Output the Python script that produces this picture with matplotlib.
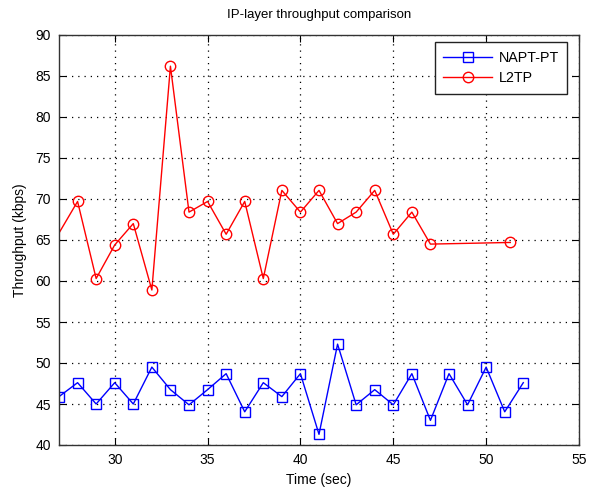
import matplotlib
matplotlib.use("Agg")
import matplotlib.pyplot as plt

plt.rcParams['font.family'] = ['Liberation Sans', 'DejaVu Sans']

napt_x = [27, 28, 29, 30, 31, 32, 33, 34, 35, 36, 37, 38, 39, 40, 41, 42, 43, 44, 45, 46, 47, 48, 49, 50, 51, 52]
napt_y = [45.9, 47.6, 45.0, 47.6, 45.0, 49.5, 46.75, 44.9, 46.75, 48.7, 44.05, 47.6, 45.9, 48.7, 41.3,
          52.3, 44.9, 46.75, 44.9, 48.7, 43.0, 48.7, 44.9, 49.5, 44.05, 47.6]

l2tp_x = [26, 28, 29, 30, 31, 32, 33, 34, 35, 36, 37, 38, 39, 40, 41, 42, 43, 44, 45, 46, 47, 51.3]
l2tp_y = [62.0, 69.7, 60.3, 64.4, 67.0, 58.9, 86.2, 68.4, 69.7, 65.7, 69.7, 60.3, 71.05, 68.4, 71.05,
          67.0, 68.4, 71.05, 65.7, 68.4, 64.5, 64.7]

xticks = [30, 35, 40, 45, 50, 55]
yticks = [40, 45, 50, 55, 60, 65, 70, 75, 80, 85, 90]

fig = plt.figure(figsize=(6.02, 4.91), dpi=100)
ax = fig.add_axes([59/602, 46/491, 520/602, 410/491])

ax.plot(napt_x, napt_y, color='#0000ff', lw=1, marker='s', markersize=7.5,
        markerfacecolor='none', markeredgecolor='#0000ff', markeredgewidth=1, label='NAPT-PT')
ax.plot(l2tp_x, l2tp_y, color='#ff0000', lw=1, marker='o', markersize=7.5,
        markerfacecolor='none', markeredgecolor='#ff0000', markeredgewidth=1, label='L2TP')

ax.set_xlim(27, 55)
ax.set_ylim(40, 90)
ax.set_xticks(xticks)
ax.set_yticks(yticks)
ax.tick_params(direction='in', top=True, right=True, length=5, width=0.8,
               labelsize=10, colors='black', pad=6)
ax.grid(True, linestyle=(0, (1, 4)), color='black', linewidth=0.9)
for s in ax.spines.values():
    s.set_linewidth(1)
    s.set_color('#333333')

ax.set_title('IP-layer throughput comparison', fontsize=9.5, pad=12)
ax.set_xlabel('Time (sec)', fontsize=10, labelpad=4)
ax.set_ylabel('Throughput (kbps)', fontsize=10, labelpad=6)

leg = ax.legend(loc='upper right', fontsize=10.3,
                fancybox=False, edgecolor='#222222', framealpha=1, borderaxespad=0,
                handlelength=3.4, borderpad=0.6, labelspacing=0.45, handletextpad=0.45)
leg.set_bbox_to_anchor((567.3 / 602, 448.7 / 491), transform=fig.transFigure)
leg.get_frame().set_linewidth(1)

fig.savefig('out.png', dpi=100)
